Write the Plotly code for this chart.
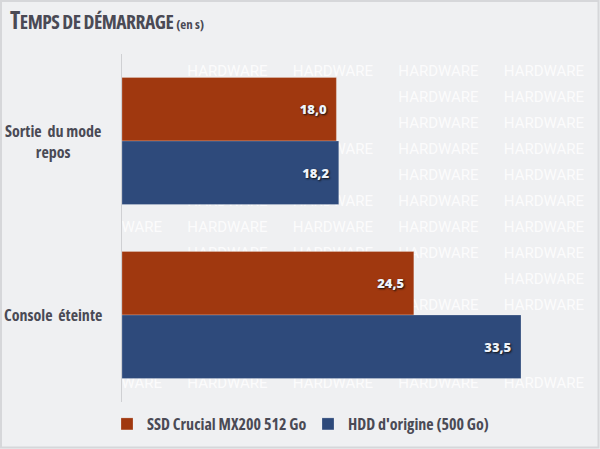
import plotly.graph_objects as go

# ---- data ----
categories = ["Sortie du mode repos", "Console éteinte"]
category_labels = ["Sortie&nbsp; du mode<br>repos", "Console&nbsp; éteinte"]
series_names = ["SSD Crucial MX200 512 Go", "HDD d'origine (500 Go)"]
ssd_values = [18.0, 24.5]
hdd_values = [18.2, 33.5]
series_values = [ssd_values, hdd_values]
series_colors = ["#A0380F", "#2E4A7B"]

W, H = 600, 449
ML, MR, MT, MB = 122, 10, 54, 47
PW, PH = W - ML - MR, H - MT - MB
PX_PER_UNIT = 11.91
BARGAP = 0.27

FONT = "Open Sans, Roboto, sans-serif"
TXT = "#4a4a55"


def cond(s, stretch="75%", extra=""):
    return f"<span style='font-stretch:{stretch};{extra}'>{s}</span>"


fig = go.Figure()

# ---- decorative watermark (behind the bars; main axes in plot-area pixels) ----
band = PH / len(categories)
bar_boxes, label_boxes = [], []
for ci in range(len(categories)):
    top = band * ci + band * BARGAP / 2
    h = band * (1 - BARGAP) / len(series_values)
    for si, vals in enumerate(series_values):
        x1 = vals[ci] * PX_PER_UNIT
        y0, y1 = top + si * h, top + (si + 1) * h
        bar_boxes.append((0, x1, y0, y1))
        label_boxes.append((x1 - 48, x1, (y0 + y1) / 2 - 12, (y0 + y1) / 2 + 12))


def overlaps(bx, by, hw, hh, box):
    x0, x1, y0, y1 = box
    return bx - hw < x1 and bx + hw > x0 and by - hh < y1 and by + hh > y0


def covered(bx, by, hw, hh, box):
    x0, x1, y0, y1 = box
    return bx - hw >= x0 and bx + hw <= x1 and by - hh >= y0 and by + hh <= y1


wm_x, wm_y = [], []
r = 0
while 18.7 + r * 26 + 6 < PH:
    for c in range(5):
        cx, cy = c * 105.5, 18.7 + r * 26
        if any(covered(cx, cy, 42, 6, b) for b in bar_boxes):
            continue
        if any(overlaps(cx, cy, 42, 6, b) for b in label_boxes):
            continue
        if any(overlaps(cx, cy, 42, 6, b) for b in bar_boxes) and cx - 42 < 0:
            continue
        wm_x.append(cx)
        wm_y.append(cy)
    r += 1
fig.add_trace(go.Scatter(
    x=wm_x, y=wm_y, mode="text", text=["HARDWARE"] * len(wm_x),
    textfont=dict(family="Roboto, Arial, sans-serif", size=15, color="rgba(255,255,255,0.8)"),
    hoverinfo="skip", showlegend=False, cliponaxis=True, xaxis="x", yaxis="y",
))

# ---- bars ----
for name, vals, col in zip(series_names, series_values, series_colors):
    fig.add_trace(go.Bar(
        name=cond(name, "80%"), y=categories, x=vals, orientation="h",
        marker=dict(color=col, line=dict(color="rgba(255,255,255,0.22)", width=1)),
        texttemplate="%{x:.1f}\u00a0\u00a0", textposition="inside", insidetextanchor="end",
        textangle=0, constraintext="none",
        textfont=dict(family="Open Sans, Lato, sans-serif", size=13, weight=800,
                      color="#eef3fa", shadow="1px 1px 2px #111"),
        hoverinfo="x+name",
        xaxis="x2", yaxis="y2",
    ))

annotations = []
for cat, lab in zip(categories, category_labels):
    annotations.append(dict(
        x=-69 / PW, xref="paper", y=cat, yref="y2", text=cond(lab), showarrow=False,
        xanchor="center", yanchor="middle", align="center",
        font=dict(family=FONT, size=16, color=TXT, weight="bold"),
    ))

title_txt = ("<b>" + cond("<span style='font-size:24px'>T</span>EMPS DE DÉMARRAGE ",
                          extra="letter-spacing:-0.5px")
             + cond("<span style='font-size:13px'>(en s)</span>") + "</b>")

fig.update_layout(
    width=W, height=H,
    margin=dict(l=ML, r=MR, t=MT, b=MB, pad=0, autoexpand=False),
    paper_bgcolor="#eff0f2", plot_bgcolor="#eff0f2",
    separators=", ",
    title=dict(
        text=title_txt,
        x=10 / W, xanchor="left", xref="container",
        y=1 - 22 / H, yanchor="middle", yref="container",
        font=dict(family=FONT, size=19.5, color=TXT),
    ),
    xaxis=dict(range=[0, PW], visible=False, fixedrange=True),
    yaxis=dict(range=[PH, 0], visible=False, fixedrange=True),
    xaxis2=dict(overlaying="x", range=[0, PW / PX_PER_UNIT], visible=False,
                showgrid=False, zeroline=False),
    yaxis2=dict(overlaying="y", type="category", autorange="reversed", showticklabels=False,
                showgrid=False, zeroline=False, showline=True, linecolor="#cfd0d3",
                linewidth=1, ticks=""),
    barmode="group", bargap=BARGAP, bargroupgap=0,
    showlegend=True,
    legend=dict(
        orientation="h", x=-15 / PW, xanchor="left", y=-22 / PH, yanchor="middle",
        font=dict(family=FONT, size=16, color=TXT, weight="bold"),
        bgcolor="rgba(0,0,0,0)", traceorder="normal",
        entrywidth=156, entrywidthmode="pixels",
    ),
    annotations=annotations,
    shapes=[dict(type="rect", xref="paper", yref="paper",
                 x0=-(ML - 1) / PW, x1=1 + (MR - 1.5) / PW,
                 y0=-(MB - 1.5) / PH, y1=1 + (MT - 1) / PH,
                 line=dict(color="#d6d7da", width=2), layer="above")],
)

fig.write_html(
    "out.html",
    config={"displayModeBar": False},
    post_script="document.body.style.margin='0';document.body.style.overflow='hidden';",
)
